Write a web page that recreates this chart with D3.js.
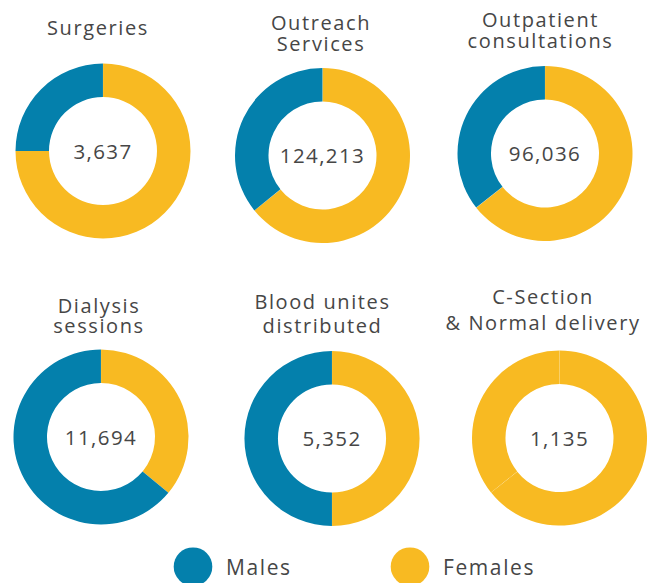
<!DOCTYPE html>
<html>
<head>
<meta charset="utf-8">
<script src="https://cdn.jsdelivr.net/npm/d3@7"></script>
<style>
  html, body { margin: 0; padding: 0; background: #fff; }
  svg { display: block; }
</style>
</head>
<body>
<div id="chart"></div>
<script>
const width = 661
const height = 583

// data
const titles = [
    ['Surgeries'],
    ['Outreach', 'Services'],
    ['Outpatient', 'consultations'],
    ['Dialysis', 'sessions'],
    ['Blood unites', 'distributed'],
    ['C-Section', '& Normal delivery']
]
const totals = [3637, 124213, 96036, 11694, 5352, 1135]
const femaleShare = [75, 64.2, 64.4, 36, 50, 100]
const maleShare = [25, 35.8, 35.6, 64, 50, 0]
// last chart is split into C-Section / Normal delivery (both females)
const deliverySplit = [64.3, 35.7]
const legendLabels = ['Males', 'Females']

const colors = {Males: '#0480ac', Females: '#f8ba22'}
const textColor = '#464646'

// layout per chart: donut centre, title centre x, first baseline, line gap
const layout = [
    {cx: 103, cy: 151, tx: 98, ty: 35, gap: 21.5},
    {cx: 322.5, cy: 155.5, tx: 321, ty: 29.5, gap: 21.5},
    {cx: 545, cy: 153.5, tx: 540.5, ty: 27, gap: 20.5},
    {cx: 101, cy: 437, tx: 99, ty: 312.5, gap: 20},
    {cx: 332, cy: 438.5, tx: 322.5, ty: 308.5, gap: 24},
    {cx: 559.5, cy: 438, tx: 543, ty: 303.5, gap: 26}
]

const outerR = 87.5
const innerR = 54

const svg = d3.select('#chart')
    .append('svg')
    .attr('width', width)
    .attr('height', height)
    .style('font-family', '"Open Sans", "Noto Sans", sans-serif')

const pie = d3.pie().sort(null).value(d => d.v).padAngle(0.0012)
const arc = d3.arc().innerRadius(innerR).outerRadius(outerR)
const fmt = d3.format(',')

titles.forEach((lines, i) => {
    const L = layout[i]
    let slices
    if (i === 5) {
        slices = deliverySplit.map(v => ({s: 'Females', v: v}))
    } else {
        slices = [{s: 'Females', v: femaleShare[i]}, {s: 'Males', v: maleShare[i]}]
    }

    const g = svg.append('g').attr('transform', `translate(${L.cx},${L.cy})`)

    g.selectAll('path')
        .data(pie(slices))
        .join('path')
        .attr('d', arc)
        .attr('fill', d => colors[d.data.s])

    g.append('text')
        .attr('text-anchor', 'middle')
        .attr('y', 7.5)
        .attr('font-size', 20.5)
        .attr('letter-spacing', 1.4)
        .attr('fill', textColor)
        .text(fmt(totals[i]))

    // title lines
    svg.append('text')
        .attr('text-anchor', 'middle')
        .attr('font-size', 20)
        .attr('letter-spacing', 1.6)
        .attr('fill', textColor)
        .selectAll('tspan')
        .data(lines)
        .join('tspan')
        .attr('x', L.tx)
        .attr('y', (d, j) => L.ty + j * L.gap)
        .text(d => d)
})

// legend
const legendX = d3.scalePoint().domain(legendLabels).range([193, 410])
const legend = svg.append('g')
    .selectAll('g')
    .data(legendLabels)
    .join('g')
    .attr('transform', d => `translate(${legendX(d)},566.7)`)

legend.append('circle')
    .attr('r', 19.3)
    .attr('fill', d => colors[d])

legend.append('text')
    .attr('x', 33)
    .attr('y', 8.5)
    .attr('font-size', 21)
    .attr('letter-spacing', 1.6)
    .attr('fill', textColor)
    .text(d => d)
</script>
</body>
</html>
